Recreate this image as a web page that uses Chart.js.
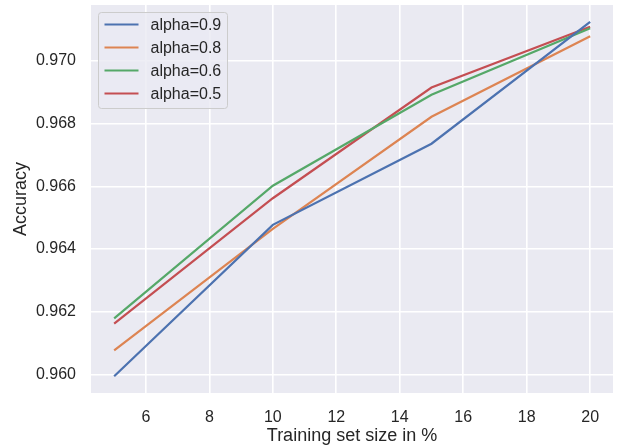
<!DOCTYPE html>
<html>
<head>
<meta charset="utf-8">
<title>Accuracy vs training set size</title>
<script src="https://cdn.jsdelivr.net/npm/chart.js@4/dist/chart.umd.min.js"></script>
<style>
  html, body { margin: 0; padding: 0; background: #ffffff; }
  #wrap { width: 622px; height: 448px; }
</style>
</head>
<body>
<div id="wrap"><canvas id="myChart" width="622" height="448"></canvas></div>
<script>
// training set size in %
const sizes = [5, 10, 15, 20];

// accuracy per alpha
const alpha09 = [0.95994, 0.96477, 0.96736, 0.97125];
const alpha08 = [0.96077, 0.96464, 0.96822, 0.97079];
const alpha06 = [0.96179, 0.96602, 0.96892, 0.97104];
const alpha05 = [0.96162, 0.96562, 0.96915, 0.97109];

const seriesLabels = ['alpha=0.9', 'alpha=0.8', 'alpha=0.6', 'alpha=0.5'];
const seriesValues = [alpha09, alpha08, alpha06, alpha05];
const seriesColors = ['#4C72B0', '#DD8452', '#55A868', '#C44E52'];

// tick labels
const xTicks = [6, 8, 10, 12, 14, 16, 18, 20];
const yTicks = [0.960, 0.962, 0.964, 0.966, 0.968, 0.970];

const FONT = "'Liberation Sans', Arial, sans-serif";
const TEXT = '#262626';

// grey plot background (seaborn darkgrid)
const plotBackground = {
    id: 'plotBackground',
    beforeDraw(chart) {
        const { ctx, chartArea: a } = chart;
        ctx.save();
        ctx.fillStyle = '#EAEAF2';
        ctx.fillRect(a.left, a.top, a.right - a.left, a.bottom - a.top);
        ctx.restore();
    }
};

// legend inside the plot, top left
const insideLegend = {
    id: 'insideLegend',
    afterDraw(chart) {
        const { ctx, chartArea: a } = chart;
        const x0 = a.left + 7.5, y0 = a.top + 7.5;
        const w = 129, h = 96, r = 3;
        ctx.save();
        ctx.beginPath();
        ctx.roundRect(x0, y0, w, h, r);
        ctx.fillStyle = 'rgba(234,234,242,0.8)';
        ctx.fill();
        ctx.strokeStyle = '#CCCCCC';
        ctx.lineWidth = 1;
        ctx.stroke();
        ctx.font = '16px ' + FONT;
        ctx.textBaseline = 'middle';
        ctx.fillStyle = TEXT;
        chart.data.datasets.forEach((ds, i) => {
            const y = y0 + 12 + i * 23;
            ctx.beginPath();
            ctx.moveTo(x0 + 6, y);
            ctx.lineTo(x0 + 40, y);
            ctx.strokeStyle = ds.borderColor;
            ctx.lineWidth = 2.2;
            ctx.stroke();
            ctx.fillText(ds.label, x0 + 52, y + 1);
        });
        ctx.restore();
    }
};

let myChart;

function initChart() {
    const ctx = document.getElementById('myChart').getContext('2d');
    myChart = new Chart(ctx, {
        type: 'line',
        data: {
            datasets: seriesLabels.map((label, i) => ({
                label: label,
                data: sizes.map((s, j) => ({ x: s, y: seriesValues[i][j] })),
                borderColor: seriesColors[i],
                backgroundColor: seriesColors[i],
                borderWidth: 2.2,
                pointRadius: 0,
                tension: 0,
                fill: false
            }))
        },
        options: {
            responsive: false,
            animation: false,
            devicePixelRatio: 1,
            layout: { padding: { top: 5, right: 9, left: 0, bottom: 0 } },
            plugins: {
                legend: { display: false },
                tooltip: { enabled: false }
            },
            scales: {
                x: {
                    type: 'linear',
                    min: 4.27,
                    max: 20.72,
                    afterBuildTicks: s => { s.ticks = xTicks.map(v => ({ value: v })); },
                    afterFit: s => {
                        s.height = 55;
                        s.paddingLeft = 0;
                        s.paddingRight = 0;
                    },
                    grid: { color: '#ffffff', lineWidth: 1.6, drawTicks: false },
                    border: { display: false },
                    ticks: {
                        color: TEXT,
                        padding: 15,
                        maxRotation: 0,
                        font: { family: FONT, size: 16 }
                    },
                    title: {
                        display: true,
                        text: 'Training set size in %',
                        color: TEXT,
                        padding: { top: 0, bottom: 1.5 },
                        font: { family: FONT, size: 18 }
                    }
                },
                y: {
                    type: 'linear',
                    min: 0.959407,
                    max: 0.971785,
                    afterBuildTicks: s => { s.ticks = yTicks.map(v => ({ value: v })); },
                    afterFit: s => {
                        s.width = 91;
                        s.paddingTop = 0;
                        s.paddingBottom = 0;
                    },
                    grid: { color: '#ffffff', lineWidth: 1.6, drawTicks: false },
                    border: { display: false },
                    ticks: {
                        color: TEXT,
                        padding: 15,
                        font: { family: FONT, size: 16 },
                        callback: v => v.toFixed(3)
                    },
                    title: {
                        display: true,
                        text: 'Accuracy',
                        color: TEXT,
                        padding: { top: 10, bottom: 0 },
                        font: { family: FONT, size: 18 }
                    }
                }
            }
        },
        plugins: [plotBackground, insideLegend]
    });
}

document.addEventListener('DOMContentLoaded', () => {
    initChart();
});
</script>
</body>
</html>
